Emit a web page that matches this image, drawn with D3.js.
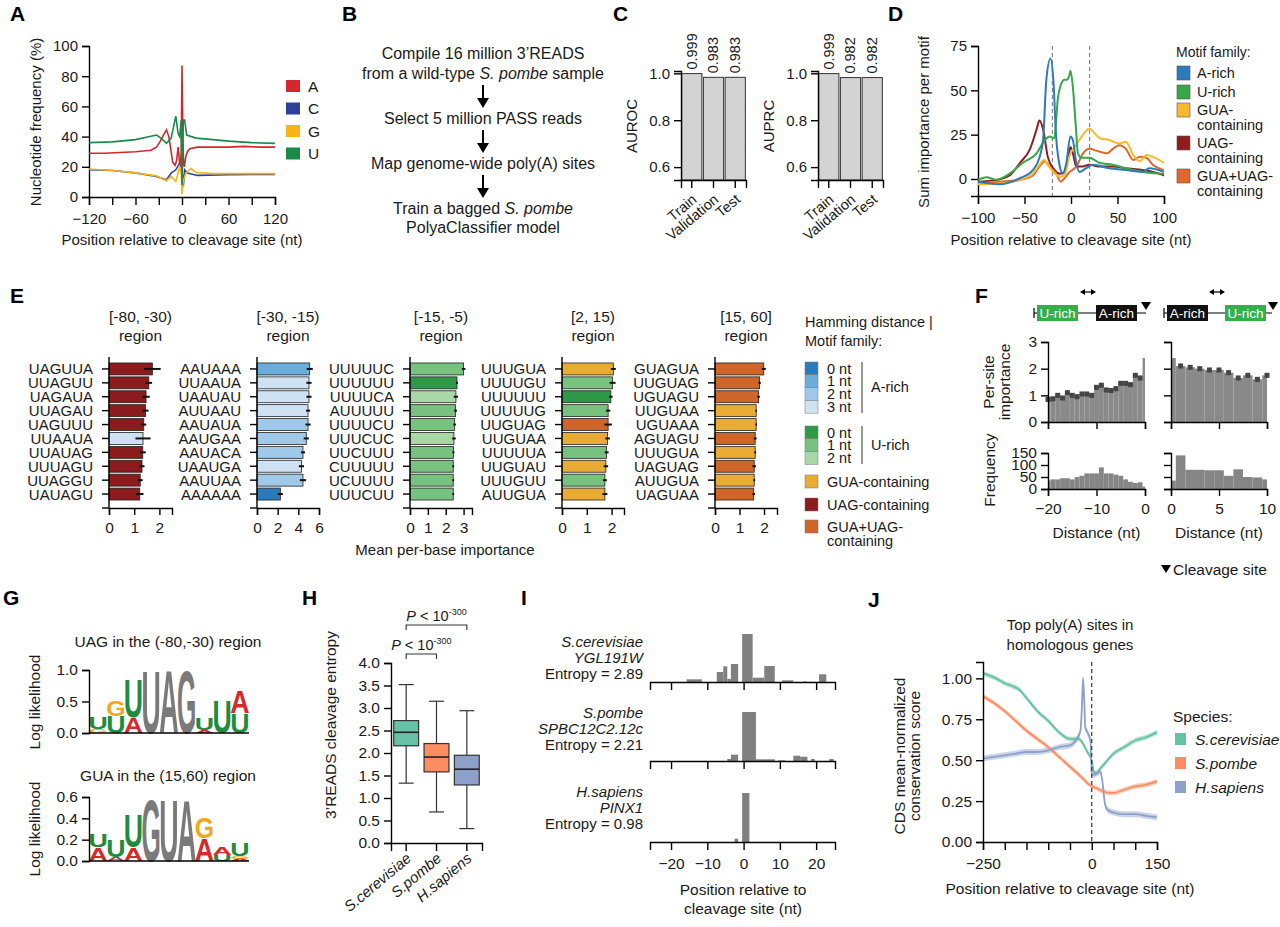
<!DOCTYPE html>
<html>
<head>
<meta charset="utf-8">
<script src="https://cdn.jsdelivr.net/npm/d3@7"></script>
<style>
body { margin: 0; background: #fff; }
</style>
</head>
<body>
<div id="fig"></div>
<script>
const FONT = "'Liberation Sans', Arial, Helvetica, sans-serif";

// ---------- data ----------
// A: nucleotide frequency (%) by position
const ntA = [[-120,29],[-100,29],[-80,29.5],[-60,30],[-40,31],[-33,33],[-28,37],[-24,41],[-20,44.5],[-17,40],[-14,30],[-12,23],[-9,21],[-7,24],[-5,33],[-4,28],[-3,22],[-2,21],[-1,30],[0,87],[1,44],[2,22],[3,20],[5,27],[7,30],[10,32],[20,33],[40,33],[60,33],[80,33.5],[100,33],[120,33]];
const ntC = [[-120,18],[-90,17.5],[-60,16],[-33,13.6],[-20,11.4],[-14,15.8],[-8,18],[-3,22.4],[-1,21],[0,18],[1.7,7],[3.4,18],[7,15.8],[20,14.3],[60,14.7],[90,15],[120,15]];
const ntG = [[-120,18.5],[-90,17.5],[-60,16],[-33,14],[-20,10.8],[-14,13.6],[-8,10.3],[-3,20],[-1,15.8],[0,2],[1.7,11],[5,15.8],[11.5,19],[18,16.3],[40,15.5],[80,15.5],[120,15.5]];
const ntU = [[-120,36],[-90,36.5],[-60,38],[-33,41],[-27,39],[-20,35.6],[-14,39],[-8,53.6],[-5,42],[-3,40],[-1,51],[0,8],[1.7,51],[3.4,51],[6,41],[18,39],[40,38],[60,37],[90,36],[120,35.5]];

// C: classifier performance
const cSets = ['Train', 'Validation', 'Test'];
const cAuroc = [0.999, 0.983, 0.983];
const cAuprc = [0.999, 0.982, 0.982];

// D: sum importance per motif family
const dArich = [[-100,-1.5],[-77,-3],[-55,0.4],[-41,5],[-34,12],[-30,22],[-26.5,56],[-22,68],[-19,56],[-16,24],[-12,7],[-9,3],[-5,9],[-0.7,24],[2,22],[5.7,9],[9,4],[16,6],[23.6,8],[41,6],[59,5],[77,4],[84,6],[100,4]];
const dUrich = [[-100,-0.5],[-91,1],[-80,-0.5],[-66,3],[-52,9],[-37,14.5],[-28,22],[-23,24],[-18,23],[-14,46],[-11,53],[-7,56],[-4.5,56],[-2,58],[-0.5,61],[2,52],[5,31],[7.5,14.5],[11,12],[20,12],[31,9],[45,8],[59,6],[77,4],[100,3]];
const dGua = [[-100,-3],[-77,-2.5],[-55,-0.5],[-41,3],[-34,8],[-29,10.7],[-25,8],[-19,4],[-12,1.3],[-7,2],[-1.4,13.5],[4,18],[9,22],[16,27],[20,28.5],[25,26],[31,23],[41,22],[52,20],[59,21],[67,13.5],[74,10],[81,13.5],[88,12.5],[95,10.7],[100,9]];
const dUag = [[-100,-1.5],[-80,-0.5],[-66,2],[-55,9],[-44,17],[-37,28],[-34,33],[-30,28],[-25,12.6],[-19,6],[-12,3],[-7,4],[-3,12.6],[-0.5,18],[2,14.5],[5.7,7],[11,7],[20,8],[31,7],[45,7],[59,6],[77,5],[88,4],[100,2]];
const dGuaUag = [[-100,-2.5],[-77,-1.5],[-55,-0.5],[-41,2],[-34,7],[-28,10],[-23,7],[-16,3],[-11,-1.5],[-7,0.4],[-1.4,4],[5.7,7],[13,14.5],[20,17],[27,16],[34,15],[39,14.5],[45,17],[52,19],[59,17],[67,10.7],[74,12.6],[81,12],[88,8],[100,5]];

// E: top motifs per region [motif, mean importance, error, family]
const eReg1 = [['UAGUUA',1.72,0.33,'UAG'],['UUAGUU',1.58,0.13,'UAG'],['UAGAUA',1.47,0.15,'UAG'],['UUAGAU',1.45,0.12,'UAG'],['UAGUUU',1.38,0.1,'UAG'],['UUAAUA',1.35,0.3,'A3'],['UUAUAG',1.34,0.12,'UAG'],['UUUAGU',1.31,0.1,'UAG'],['UUAGGU',1.24,0.1,'UAG'],['UAUAGU',1.22,0.15,'UAG']];
const eReg2 = [['AAUAAA',5.1,0.3,'A1'],['UUAAUA',5.03,0.25,'A3'],['UAAUAU',5.03,0.25,'A3'],['AUUAAU',4.94,0.2,'A3'],['AAUAUA',4.94,0.25,'A2'],['AAUGAA',4.77,0.25,'A2'],['AAUACA',4.45,0.2,'A2'],['UAAUGA',4.3,0.25,'A3'],['AAUUAA',4.45,0.3,'A2'],['AAAAAA',2.26,0.25,'A0']];
const eReg3 = [['UUUUUC',3.0,0.1,'U1'],['UUUUUU',2.63,0.06,'U0'],['UUUUCA',2.57,0.12,'U2'],['AUUUUU',2.55,0.08,'U1'],['UUUUCU',2.5,0.07,'U1'],['UUUCUC',2.46,0.1,'U2'],['UUCUUU',2.43,0.06,'U1'],['CUUUUU',2.42,0.05,'U1'],['UCUUUU',2.42,0.05,'U1'],['UUUCUU',2.42,0.05,'U1']];
const eReg4 = [['UUUGUA',2.07,0.1,'GUA'],['UUUUGU',2.04,0.12,'U1'],['UUUUUU',1.97,0.07,'U0'],['UUUUUG',1.86,0.09,'U1'],['UUGUAG',1.86,0.15,'GUAUAG'],['UUGUAA',1.84,0.09,'GUA'],['UUUUUA',1.8,0.08,'U1'],['UUGUAU',1.77,0.09,'GUA'],['UUUGUU',1.73,0.08,'U1'],['AUUGUA',1.73,0.1,'GUA']];
const eReg5 = [['GUAGUA',1.99,0.08,'GUAUAG'],['UUGUAG',1.82,0.05,'GUAUAG'],['UGUAGU',1.78,0.05,'GUAUAG'],['UUGUAA',1.68,0.03,'GUA'],['UGUAAA',1.68,0.03,'GUA'],['AGUAGU',1.64,0.06,'GUAUAG'],['UUUGUA',1.64,0.04,'GUA'],['UAGUAG',1.6,0.07,'GUAUAG'],['AUUGUA',1.6,0.04,'GUA'],['UAGUAA',1.58,0.05,'GUAUAG']];
const eTitles = ['[-80, -30)', '[-30, -15)', '[-15, -5)', '[2, 15)', '[15, 60]'];
const eTicks = [[0,1,2],[0,2,4,6],[0,1,2,3],[0,1,2],[0,1,2]];
const eMax = [2.5, 6, 3.47, 2.5, 2.53];

// F: per-site importance and frequency by spacing
const fLeftPos = [-20,-19,-18,-17,-16,-15,-14,-13,-12,-11,-10,-9,-8,-7,-6,-5,-4,-3,-2,-1,0];
const fLeftImp = [0.85,0.87,1.0,0.9,1.1,1.0,0.95,1.05,1.05,1.0,1.3,1.38,1.2,1.18,1.25,1.45,1.45,1.4,1.75,1.65,2.4];
const fLeftFreq = [35,40,40,45,45,40,50,55,65,65,65,90,65,65,60,55,40,30,25,28,10];
const fRightPos = [0,1,2,3,4,5,6,7,8,9,10];
const fRightImp = [2.4,2.1,2.05,2.0,1.95,1.95,1.85,1.65,1.75,1.6,1.75];
const fRightFreq = [35,140,80,80,78,78,55,82,50,48,40];

// G: sequence logos, columns bottom-to-top [letter, height]
const gTop = [[['G',0.06],['U',0.2]],[['U',0.27],['G',0.26]],[['A',0.25],['U',0.62]],[['U',1.02]],[['A',1.02]],[['G',1.02]],[['A',0.05],['U',0.2]],[['U',0.53]],[['U',0.32],['A',0.37]]];
const gBottom = [[['A',0.13],['U',0.12]],[['A',0.04],['U',0.16]],[['A',0.13],['U',0.32]],[['G',0.6]],[['U',0.6]],[['A',0.6]],[['A',0.22],['G',0.2]],[['U',0.06],['A',0.07]],[['A',0.02],['G',0.03],['U',0.12]]];
const gCore = [3, 4, 5];

// H: cleavage entropy boxplots [low, q1, median, q3, high]
const hSpecies = ['S.cerevisiae', 'S.pombe', 'H.sapiens'];
const hBoxes = [[1.33,2.16,2.46,2.72,3.52],[0.69,1.58,1.91,2.21,3.15],[0.32,1.29,1.64,1.95,2.94]];

// I: cleavage position histograms [from, to, fraction]
const iYgl = [[-15.7,-11.5,0.027],[-7.4,-5.6,0.10],[-5.6,-4.5,0.157],[-4.5,-3.5,0.03],[-3.5,-1.5,0.18],[-0.4,2.5,0.48],[2.5,5.7,0.043],[5.7,8.6,0.16],[10.6,13.7,0.017],[16.5,17.4,0.007],[20.8,22.8,0.077]];
const iSpbc = [[-4.5,-3.5,0.02],[-3.5,-1.5,0.063],[-0.4,3.4,0.49],[3.4,8.6,0.017],[9.6,11.5,0.007],[13.7,15.6,0.053],[15.6,17.6,0.043],[18.6,19.6,0.02],[23.6,24.8,0.02]];
const iPinx = [[-2.5,-1.5,0.033],[-0.4,1.6,0.49]];
const iNames = [['S.cerevisiae','YGL191W','Entropy = 2.89'],['S.pombe','SPBC12C2.12c','Entropy = 2.21'],['H.sapiens','PINX1','Entropy = 0.98']];

// J: conservation score around top poly(A) sites
const jSc = [[-250,1.03],[-220,1.0],[-200,0.97],[-180,0.95],[-166,0.93],[-150,0.88],[-125,0.8],[-100,0.74],[-75,0.67],[-50,0.63],[-30,0.63],[-20,0.6],[-10,0.55],[0,0.5],[5,0.43],[10,0.42],[20,0.45],[30,0.48],[50,0.54],[75,0.58],[100,0.62],[125,0.64],[150,0.67]];
const jSp = [[-250,0.89],[-225,0.85],[-200,0.8],[-175,0.74],[-150,0.68],[-125,0.63],[-100,0.58],[-75,0.52],[-50,0.46],[-25,0.4],[-10,0.36],[0,0.34],[10,0.33],[25,0.31],[40,0.3],[50,0.3],[75,0.32],[100,0.34],[125,0.35],[150,0.37]];
const jHs = [[-250,0.51],[-225,0.52],[-200,0.53],[-175,0.54],[-150,0.55],[-125,0.55],[-100,0.56],[-75,0.58],[-51,0.59],[-32,0.64],[-26,0.68],[-23,0.8],[-20,1.0],[-17,0.85],[-15,0.7],[-12,0.68],[-8,0.66],[-3,0.62],[0,0.42],[5,0.41],[12,0.42],[20,0.43],[25,0.36],[30,0.24],[35,0.2],[50,0.18],[75,0.17],[100,0.17],[125,0.16],[150,0.15]];
const jSe = [0.015, 0.015, 0.018];

// ---------- helpers ----------
const svg = d3.select('#fig').append('svg')
    .attr('width', 1280).attr('height', 927)
    .style('font-family', FONT);
svg.append('rect').attr('width', 1280).attr('height', 927).attr('fill', '#fff');

function addText(x, y, s, o) {
    o = o || {};
    const t = svg.append('text').attr('x', x).attr('y', y).text(s)
        .attr('font-size', o.size || 14)
        .attr('fill', o.fill || '#1a1a1a')
        .attr('text-anchor', o.anchor || 'start');
    if (o.italic) t.attr('font-style', 'italic');
    if (o.bold) t.attr('font-weight', 'bold');
    if (o.rotate) t.attr('transform', `rotate(${o.rotate},${x},${y})`);
    return t;
}

function panelLabel(s, x, y) {
    addText(x, y, s, { size: 21, bold: true, fill: '#000' });
}

function styleAxis(g, size) {
    g.selectAll('path, line').attr('stroke', '#000').attr('stroke-width', 1.4);
    g.selectAll('text').attr('font-size', size || 14.5).attr('font-family', FONT).attr('fill', '#1a1a1a');
    return g;
}

// bottom / left axes with the long ticks of the figure
function bottomAxis(scale) {
    return d3.axisBottom(scale).tickSizeOuter(0).tickSize(8).tickPadding(8);
}
function leftAxis(scale) {
    return d3.axisLeft(scale).tickSizeOuter(0).tickSize(7).tickPadding(4);
}

const fmtInt = d3.format('d');

// ---------- A ----------
panelLabel('A', 10, 21);
const xA = d3.scaleLinear([-120, 120], [89, 275]);
const yA = d3.scaleLinear([0, 100], [197, 46]);
styleAxis(svg.append('g').attr('transform', 'translate(0,197)')
    .call(bottomAxis(xA).tickValues(d3.range(-120, 121, 30))
        .tickFormat(d => d % 60 === 0 ? fmtInt(d) : '')), 15);
styleAxis(svg.append('g').attr('transform', 'translate(89,0)')
    .call(leftAxis(yA).tickValues([0, 20, 40, 60, 80, 100])), 15);
const lineA = d3.line().x(d => xA(d[0])).y(d => yA(d[1]));
[[ntC, '#2f3f9c'], [ntG, '#f7b416'], [ntA, '#d7262b'], [ntU, '#198a4a']].forEach(s => {
    svg.append('path').datum(s[0]).attr('d', lineA).attr('fill', 'none')
        .attr('stroke', s[1]).attr('stroke-width', 1.6);
});
addText(182, 245, 'Position relative to cleavage site (nt)', { anchor: 'middle', size: 15 });
addText(41, 122, 'Nucleotide frequency (%)', { anchor: 'middle', rotate: -90, size: 15 });
[['A', '#d7262b'], ['C', '#2f3f9c'], ['G', '#f7b416'], ['U', '#198a4a']].forEach((s, i) => {
    const cy = 86 + i * 22.5;
    svg.append('rect').attr('x', 286).attr('y', cy - 6).attr('width', 14).attr('height', 12).attr('fill', s[1]);
    addText(308, cy + 5.5, s[0], { size: 15.5 });
});

// ---------- B ----------
panelLabel('B', 342, 21);
const bx = 483;
function bLine(y, parts) {
    const t = svg.append('text').attr('x', bx).attr('y', y).attr('text-anchor', 'middle')
        .attr('font-size', 16).attr('fill', '#1a1a1a');
    parts.forEach(p => {
        const ts = t.append('tspan').text(p[0]);
        if (p[1]) ts.attr('font-style', 'italic');
    });
}
function bArrow(y1, y2) {
    svg.append('line').attr('x1', bx).attr('x2', bx).attr('y1', y1).attr('y2', y2 - 8)
        .attr('stroke', '#000').attr('stroke-width', 2);
    svg.append('path').attr('d', `M${bx - 6},${y2 - 10}L${bx + 6},${y2 - 10}L${bx},${y2}Z`).attr('fill', '#000');
}
bLine(59, [['Compile 16 million 3\u2019READS']]);
bLine(79, [['from a wild-type '], ['S. pombe', true], [' sample']]);
bArrow(85, 108);
bLine(124, [['Select 5 million PASS reads']]);
bArrow(130, 153);
bLine(169, [['Map genome-wide poly(A) sites']]);
bArrow(175, 198);
bLine(214, [['Train a bagged '], ['S. pombe', true]]);
bLine(233, [['PolyaClassifier model']]);

// ---------- C ----------
panelLabel('C', 613, 21);
function metricChart(axX, title, vals) {
    const x = d3.scaleBand(cSets, [axX, axX + 65]).paddingInner(0.07).paddingOuter(0.03);
    const y = d3.scaleLinear([0.545, 1.01], [180, 71]);
    svg.append('g').selectAll('rect').data(vals).join('rect')
        .attr('x', (d, i) => x(cSets[i])).attr('width', x.bandwidth())
        .attr('y', d => y(d)).attr('height', d => y(0.545) - y(d))
        .attr('fill', '#d3d3d3').attr('stroke', '#333').attr('stroke-width', 1);
    styleAxis(svg.append('g').attr('transform', `translate(${axX},0)`)
        .call(leftAxis(y).tickValues([0.6, 0.8, 1.0]).tickFormat(d3.format('.1f'))), 15);
    styleAxis(svg.append('g').attr('transform', 'translate(0,180)')
        .call(bottomAxis(x).tickFormat('')));
    vals.forEach((v, i) => {
        const cx = x(cSets[i]) + x.bandwidth() / 2;
        addText(cx + 5, y(v) - 4, d3.format('.3f')(v), { size: 14.5, rotate: -90 });
        addText(cx + 6, 201, cSets[i], { size: 14.5, anchor: 'end', rotate: -40 });
    });
    addText(axX - 44, 126, title, { anchor: 'middle', rotate: -90, size: 15 });
}
metricChart(681, 'AUROC', cAuroc);
metricChart(818, 'AUPRC', cAuprc);

// ---------- D ----------
panelLabel('D', 888, 21);
const xD = d3.scaleLinear([-100, 100], [978, 1164]);
const yD = d3.scaleLinear([-9.6, 75], [196, 46]);
styleAxis(svg.append('g').attr('transform', 'translate(0,196)')
    .call(bottomAxis(xD).tickValues([-100, -50, 0, 50, 100])), 15);
styleAxis(svg.append('g').attr('transform', 'translate(978,0)')
    .call(leftAxis(yD).tickValues([0, 25, 50, 75])), 15);
[-20, 20].forEach(v => {
    svg.append('line').attr('x1', xD(v)).attr('x2', xD(v)).attr('y1', 46).attr('y2', 196)
        .attr('stroke', '#888').attr('stroke-width', 1.2).attr('stroke-dasharray', '4,3');
});
const dColors = ['#2b7bbd', '#37a847', '#fbb82b', '#8e1d1d', '#e0662d'];
const lineD = d3.line().x(d => xD(d[0])).y(d => yD(d[1])).curve(d3.curveMonotoneX);
[[dUag, 3], [dGuaUag, 4], [dGua, 2], [dUrich, 1], [dArich, 0]].forEach(s => {
    svg.append('path').datum(s[0]).attr('d', lineD).attr('fill', 'none')
        .attr('stroke', dColors[s[1]]).attr('stroke-width', 2);
});
addText(1071, 245, 'Position relative to cleavage site (nt)', { anchor: 'middle', size: 15 });
addText(929, 122, 'Sum importance per motif', { anchor: 'middle', rotate: -90, size: 15 });
addText(1176, 57, 'Motif family:', { size: 14 });
const dLegend = [['A-rich'], ['U-rich'], ['GUA-', 'containing'], ['UAG-', 'containing'], ['GUA+UAG-', 'containing']];
const dLegY = [73, 92, 110, 143, 176];
dLegend.forEach((s, i) => {
    svg.append('rect').attr('x', 1177).attr('y', dLegY[i] - 7).attr('width', 13).attr('height', 14)
        .attr('fill', dColors[i]).attr('stroke', '#555').attr('stroke-width', 0.6);
    s.forEach((ln, j) => addText(1197, dLegY[i] + 5 + j * 14.5, ln, { size: 14.5 }));
});

// ---------- E ----------
panelLabel('E', 10, 303);
const famColor = {
    A0: '#2b7bba', A1: '#6aaddb', A2: '#9fc8e9', A3: '#cfe2f3',
    U0: '#2e9a48', U1: '#78c27f', U2: '#a9d8a6',
    GUA: '#e8ac35', UAG: '#8c1b1d', GUAUAG: '#cf6529'
};
const eAxisX = [109, 257, 410, 562, 715];
const eEnd = [172, 319, 472, 624, 777];
const eRegions = [eReg1, eReg2, eReg3, eReg4, eReg5];
eRegions.forEach((rows, k) => {
    const ax = eAxisX[k];
    const x = d3.scaleLinear([0, eMax[k]], [ax, eEnd[k]]);
    const y = d3.scaleBand(rows.map((r, i) => i), [362, 501]).paddingInner(0.14).paddingOuter(0.07);
    const g = svg.append('g');
    g.selectAll('rect').data(rows).join('rect')
        .attr('x', ax).attr('y', (d, i) => y(i))
        .attr('width', d => x(d[1]) - ax).attr('height', y.bandwidth())
        .attr('fill', d => famColor[d[3]]).attr('stroke', '#222').attr('stroke-width', 0.8);
    g.selectAll('line.err').data(rows).join('line').attr('class', 'err')
        .attr('x1', d => x(d[1] - d[2])).attr('x2', d => x(d[1] + d[2]))
        .attr('y1', (d, i) => y(i) + y.bandwidth() / 2).attr('y2', (d, i) => y(i) + y.bandwidth() / 2)
        .attr('stroke', '#111').attr('stroke-width', 2);
    rows.forEach((r, i) => {
        const cy = y(i) + y.bandwidth() / 2;
        svg.append('line').attr('x1', ax - 7).attr('x2', ax).attr('y1', cy).attr('y2', cy)
            .attr('stroke', '#000').attr('stroke-width', 1.4);
        addText(ax - 16, cy + 5.5, r[0], { size: 15, anchor: 'end' });
    });
    svg.append('line').attr('x1', ax).attr('x2', ax).attr('y1', 357).attr('y2', 508)
        .attr('stroke', '#000').attr('stroke-width', 1.4);
    styleAxis(svg.append('g').attr('transform', 'translate(0,508)')
        .call(bottomAxis(x).tickValues(eTicks[k]).tickSize(7).tickPadding(7).tickFormat(fmtInt)), 15.5);
    svg.append('line').attr('x1', ax - 7).attr('x2', ax).attr('y1', 508).attr('y2', 508)
        .attr('stroke', '#000').attr('stroke-width', 1.4);
    const tc = (ax + eEnd[k]) / 2;
    addText(tc, 322, eTitles[k], { size: 15.5, anchor: 'middle' });
    addText(tc, 341, 'region', { size: 15.5, anchor: 'middle' });
});
addText(445, 555, 'Mean per-base importance', { size: 15, anchor: 'middle' });
// E legend
addText(805, 327, 'Hamming distance |', { size: 14.5 });
addText(805, 346, 'Motif family:', { size: 14.5 });
['A0', 'A1', 'A2', 'A3'].forEach((f, i) => {
    const y0 = 362 + i * 12.8;
    svg.append('rect').attr('x', 805).attr('y', y0).attr('width', 13).attr('height', 12.8)
        .attr('fill', famColor[f]).attr('stroke', '#777').attr('stroke-width', 0.5);
    addText(827, y0 + 11.5, i + ' nt', { size: 14.5 });
});
svg.append('line').attr('x1', 862).attr('x2', 862).attr('y1', 362).attr('y2', 413).attr('stroke', '#333');
addText(871, 392, 'A-rich', { size: 14.5 });
['U0', 'U1', 'U2'].forEach((f, i) => {
    const y0 = 426 + i * 12.8;
    svg.append('rect').attr('x', 805).attr('y', y0).attr('width', 13).attr('height', 12.8)
        .attr('fill', famColor[f]).attr('stroke', '#777').attr('stroke-width', 0.5);
    addText(827, y0 + 11.5, i + ' nt', { size: 14.5 });
});
svg.append('line').attr('x1', 862).attr('x2', 862).attr('y1', 426).attr('y2', 464).attr('stroke', '#333');
addText(871, 450, 'U-rich', { size: 14.5 });
[['GUA', ['GUA-containing'], 475], ['UAG', ['UAG-containing'], 498], ['GUAUAG', ['GUA+UAG-', 'containing'], 520]].forEach(s => {
    svg.append('rect').attr('x', 805).attr('y', s[2]).attr('width', 13).attr('height', 13)
        .attr('fill', famColor[s[0]]).attr('stroke', '#777').attr('stroke-width', 0.5);
    s[1].forEach((ln, j) => addText(827, s[2] + 12 + j * 13.5, ln, { size: 14.5 }));
});

// ---------- F ----------
panelLabel('F', 975, 303);
function motifBox(x, w, label, fill) {
    svg.append('rect').attr('x', x).attr('y', 305).attr('width', w).attr('height', 16).attr('fill', fill);
    addText(x + w / 2, 318, label, { size: 13.5, anchor: 'middle', fill: '#fff' });
}
function dblArrow(x1, x2, y) {
    svg.append('line').attr('x1', x1 + 3).attr('x2', x2 - 3).attr('y1', y).attr('y2', y).attr('stroke', '#000').attr('stroke-width', 1.2);
    svg.append('path').attr('d', `M${x1},${y}l5,-3v6Z M${x2},${y}l-5,-3v6Z`).attr('fill', '#000');
}
function cleavageTri(x, y) {
    svg.append('path').attr('d', `M${x - 5},${y}L${x + 5},${y}L${x},${y + 8}Z`).attr('fill', '#000');
}
svg.append('line').attr('x1', 1034).attr('x2', 1146).attr('y1', 313).attr('y2', 313).attr('stroke', '#000').attr('stroke-width', 1.2);
svg.append('line').attr('x1', 1034).attr('x2', 1034).attr('y1', 308).attr('y2', 318).attr('stroke', '#000').attr('stroke-width', 1.2);
motifBox(1037, 41, 'U-rich', '#34b04a');
motifBox(1096, 41, 'A-rich', '#111');
cleavageTri(1146, 302);
dblArrow(1080, 1096, 292);
svg.append('line').attr('x1', 1164).attr('x2', 1272).attr('y1', 313).attr('y2', 313).attr('stroke', '#000').attr('stroke-width', 1.2);
svg.append('line').attr('x1', 1164).attr('x2', 1164).attr('y1', 308).attr('y2', 318).attr('stroke', '#000').attr('stroke-width', 1.2);
motifBox(1167, 41, 'A-rich', '#111');
motifBox(1225, 41, 'U-rich', '#34b04a');
cleavageTri(1273, 302);
dblArrow(1209, 1225, 292);

function fPanel(dom, range, pos, imp, freq, showY) {
    const x = d3.scaleLinear(dom, range);
    const yI = d3.scaleLinear([0, 3], [422, 342]);
    const yF = d3.scaleLinear([0, 150], [489, 453]);
    const half = Math.abs(x(1) - x(0)) / 2;
    const clip = v => Math.max(range[0], Math.min(range[1], v));
    pos.forEach((p, i) => {
        const x0 = clip(x(p) - half), x1 = clip(x(p) + half);
        svg.append('rect').attr('x', x0).attr('width', x1 - x0)
            .attr('y', yI(imp[i])).attr('height', yI(0) - yI(imp[i])).attr('fill', '#8a8a8a');
        svg.append('rect').attr('x', x0).attr('width', x1 - x0)
            .attr('y', yF(freq[i])).attr('height', yF(0) - yF(freq[i])).attr('fill', '#858585');
    });
    pos.forEach((p, i) => {
        if (i === pos.length - 1 && dom[1] === 0) return;
        if (i === 0 && dom[0] === 0) return;
        svg.append('line').attr('x1', x(p)).attr('x2', x(p)).attr('y1', yI(imp[i] + 0.08)).attr('y2', yI(imp[i] - 0.08))
            .attr('stroke', '#333').attr('stroke-width', 1.2);
        svg.append('rect').attr('x', x(p) - 2.5).attr('y', yI(imp[i]) - 2.5).attr('width', 5).attr('height', 5)
            .attr('fill', '#454545');
    });
    const ticks = dom[0] === -20 ? [-20, -10, 0] : [0, 5, 10];
    styleAxis(svg.append('g').attr('transform', 'translate(0,422)')
        .call(bottomAxis(x).tickValues(ticks).tickSize(7).tickFormat('')));
    styleAxis(svg.append('g').attr('transform', 'translate(0,489)')
        .call(bottomAxis(x).tickValues(ticks).tickSize(7).tickPadding(7).tickFormat(fmtInt)), 15.5);
    styleAxis(svg.append('g').attr('transform', `translate(${range[0]},0)`)
        .call(leftAxis(yI).tickValues([0, 1, 2, 3]).tickFormat(showY ? fmtInt : '')), 15.5);
    styleAxis(svg.append('g').attr('transform', `translate(${range[0]},0)`)
        .call(leftAxis(yF).tickValues([0, 50, 100, 150]).tickFormat(showY ? fmtInt : '')), 15.5);
    addText((range[0] + range[1]) / 2, 538, 'Distance (nt)', { size: 15.5, anchor: 'middle' });
}
fPanel([-20, 0], [1048, 1145], fLeftPos, fLeftImp, fLeftFreq, true);
fPanel([0, 10], [1171, 1267], fRightPos, fRightImp, fRightFreq, false);
addText(994, 382, 'Per-site', { size: 15.5, anchor: 'middle', rotate: -90 });
addText(1010, 382, 'importance', { size: 15.5, anchor: 'middle', rotate: -90 });
addText(995, 470, 'Frequency', { size: 15.5, anchor: 'middle', rotate: -90 });
cleavageTri(1166, 565);
addText(1173, 575, 'Cleavage site', { size: 15.5 });

// ---------- G ----------
panelLabel('G', 3, 605);
const letterColor = { A: '#d42a2a', U: '#1e8c3c', G: '#f2a81d' };
function drawLetter(ch, color, x, yb, w, h) {
    if (h < 0.4) return;
    const t = svg.append('text').text(ch).attr('x', 0).attr('y', 0)
        .attr('font-size', 100).attr('font-weight', 'bold').attr('fill', color);
    const adv = t.node().getComputedTextLength();
    const sx = w / (adv * 0.9);
    t.attr('transform', `translate(${x - adv * 0.05 * sx},${yb}) scale(${sx},${h / 73})`);
}
function logo(cols, yDom, yRange, ticks, title, titleY, ylabY) {
    const x = d3.scaleBand(cols.map((c, i) => i), [89, 249]).padding(0.02);
    const y = d3.scaleLinear(yDom, yRange);
    cols.forEach((stack, i) => {
        let acc = 0;
        stack.forEach(s => {
            const col = gCore.includes(i) ? '#7a7a7a' : letterColor[s[0]];
            drawLetter(s[0], col, x(i), y(acc), x.bandwidth(), y(0) - y(s[1]));
            acc += s[1];
        });
    });
    styleAxis(svg.append('g').attr('transform', 'translate(89,0)')
        .call(leftAxis(y).tickValues(ticks).tickFormat(d3.format('.1f'))), 15.5);
    svg.append('line').attr('x1', 89).attr('x2', 249).attr('y1', y(0)).attr('y2', y(0)).attr('stroke', '#000').attr('stroke-width', 1.4);
    addText(168, titleY, title, { size: 15.5, anchor: 'middle' });
    addText(40, ylabY, 'Log likelihood', { size: 15.5, anchor: 'middle', rotate: -90 });
}
logo(gTop, [0, 1.0], [733, 670], [0, 0.5, 1.0], 'UAG in the (-80,-30) region', 647, 702);
logo(gBottom, [0, 0.6], [861, 797], [0, 0.2, 0.4, 0.6], 'GUA in the (15,60) region', 781, 829);

// ---------- H ----------
panelLabel('H', 302, 605);
const hColors = ['#66c2a5', '#fc8d62', '#8da0cb'];
const xH = d3.scaleBand(hSpecies, [391, 482]).paddingInner(0.18).paddingOuter(0.09);
const yH = d3.scaleLinear([0, 4], [843, 663]);
hBoxes.forEach((b, i) => {
    const x0 = xH(hSpecies[i]), bw = xH.bandwidth(), cx = x0 + bw / 2;
    svg.append('line').attr('x1', cx).attr('x2', cx).attr('y1', yH(b[0])).attr('y2', yH(b[4])).attr('stroke', '#333').attr('stroke-width', 1.2);
    [b[0], b[4]].forEach(v => svg.append('line').attr('x1', cx - bw * 0.3).attr('x2', cx + bw * 0.3)
        .attr('y1', yH(v)).attr('y2', yH(v)).attr('stroke', '#333').attr('stroke-width', 1.2));
    svg.append('rect').attr('x', x0).attr('width', bw).attr('y', yH(b[3])).attr('height', yH(b[1]) - yH(b[3]))
        .attr('fill', hColors[i]).attr('stroke', '#333').attr('stroke-width', 1.2);
    svg.append('line').attr('x1', x0).attr('x2', x0 + bw).attr('y1', yH(b[2])).attr('y2', yH(b[2])).attr('stroke', '#222').attr('stroke-width', 1.6);
    addText(cx + 6, 860, hSpecies[i], { size: 15, anchor: 'end', italic: true, rotate: -40 });
});
styleAxis(svg.append('g').attr('transform', 'translate(391,0)')
    .call(leftAxis(yH).tickValues(d3.range(0, 4.01, 0.5)).tickFormat(d3.format('.1f'))), 15.5);
styleAxis(svg.append('g').attr('transform', 'translate(0,843)')
    .call(bottomAxis(xH).tickFormat('')));
function pBracket(i1, i2, y, ty) {
    const a = xH(hSpecies[i1]) + xH.bandwidth() / 2, b = xH(hSpecies[i2]) + xH.bandwidth() / 2;
    svg.append('path').attr('d', `M${a},${y + 5}V${y}H${b}V${y + 5}`).attr('fill', 'none').attr('stroke', '#333').attr('stroke-width', 1.1);
    const t = svg.append('text').attr('x', (a + b) / 2).attr('y', ty).attr('text-anchor', 'middle')
        .attr('font-size', 14.5).attr('fill', '#1a1a1a');
    t.append('tspan').attr('font-style', 'italic').text('P');
    t.append('tspan').text(' < 10');
    t.append('tspan').attr('font-size', 9).attr('dy', -6).text('-300');
}
pBracket(0, 1, 654, 650);
pBracket(0, 2, 625, 621);
addText(336, 725, '3\u2019READS cleavage entropy', { size: 15.5, anchor: 'middle', rotate: -90 });

// ---------- I ----------
panelLabel('I', 521, 605);
const xI = d3.scaleLinear([-25.8, 25.2], [650, 835]);
const iBase = [682, 761, 842];
[iYgl, iSpbc, iPinx].forEach((bins, k) => {
    const y = d3.scaleLinear([0, 1], [iBase[k], iBase[k] - 100]);
    svg.append('g').selectAll('rect').data(bins).join('rect')
        .attr('x', d => xI(d[0])).attr('width', d => xI(d[1]) - xI(d[0]))
        .attr('y', d => y(d[2])).attr('height', d => y(0) - y(d[2]))
        .attr('fill', '#808080');
    styleAxis(svg.append('g').attr('transform', `translate(0,${iBase[k]})`)
        .call(bottomAxis(xI).tickValues([-20, -10, 0, 10, 20])
            .tickFormat(k === 2 ? fmtInt : '')), 15.5);
    const ty = [647, 718, 797][k];
    addText(643, ty, iNames[k][0], { size: 15, anchor: 'end', italic: true });
    addText(643, ty + 16, iNames[k][1], { size: 15, anchor: 'end', italic: true });
    addText(643, ty + 32, iNames[k][2], { size: 15, anchor: 'end' });
});
addText(743, 895, 'Position relative to', { size: 15.5, anchor: 'middle' });
addText(743, 914, 'cleavage site (nt)', { size: 15.5, anchor: 'middle' });

// ---------- J ----------
panelLabel('J', 868, 607);
const xJ = d3.scaleLinear([-250, 150], [983, 1157]);
const yJ = d3.scaleLinear([0, 1.1], [842, 662]);
const jColors = ['#66c2a5', '#fc8d62', '#8da0cb'];
[jSc, jSp, jHs].forEach((s, i) => {
    const area = d3.area().x(d => xJ(d[0])).y0(d => yJ(d[1] - jSe[i])).y1(d => yJ(d[1] + jSe[i])).curve(d3.curveMonotoneX);
    svg.append('path').datum(s).attr('d', area).attr('fill', jColors[i]).attr('opacity', 0.45);
});
[jSc, jSp, jHs].forEach((s, i) => {
    const line = d3.line().x(d => xJ(d[0])).y(d => yJ(d[1])).curve(d3.curveMonotoneX);
    svg.append('path').datum(s).attr('d', line).attr('fill', 'none').attr('stroke', jColors[i]).attr('stroke-width', 1.8);
});
svg.append('line').attr('x1', xJ(0)).attr('x2', xJ(0)).attr('y1', 662).attr('y2', 842)
    .attr('stroke', '#222').attr('stroke-width', 1.1).attr('stroke-dasharray', '4,3');
styleAxis(svg.append('g').attr('transform', 'translate(0,842)')
    .call(bottomAxis(xJ).tickValues(d3.range(-250, 151, 50))
        .tickFormat(d => (d === -250 || d === 0 || d === 150) ? fmtInt(d) : '')), 15.5);
styleAxis(svg.append('g').attr('transform', 'translate(983,0)')
    .call(leftAxis(yJ).tickValues([0, 0.25, 0.5, 0.75, 1.0]).tickFormat(d3.format('.2f'))), 15.5);
addText(1070, 630, 'Top poly(A) sites in', { size: 15, anchor: 'middle' });
addText(1070, 650, 'homologous genes', { size: 15, anchor: 'middle' });
addText(1070, 894, 'Position relative to cleavage site (nt)', { size: 15.5, anchor: 'middle' });
addText(905, 756, 'CDS mean-normalized', { size: 15.5, anchor: 'middle', rotate: -90 });
addText(920, 756, 'conservation score', { size: 15.5, anchor: 'middle', rotate: -90 });
addText(1173, 722, 'Species:', { size: 15.5 });
hSpecies.forEach((s, i) => {
    const cy = 739 + i * 24;
    svg.append('rect').attr('x', 1175).attr('y', cy - 6).attr('width', 11).attr('height', 12).attr('fill', jColors[i]);
    addText(1195, cy + 5.5, s, { size: 15.5, italic: true });
});
</script>
</body>
</html>
